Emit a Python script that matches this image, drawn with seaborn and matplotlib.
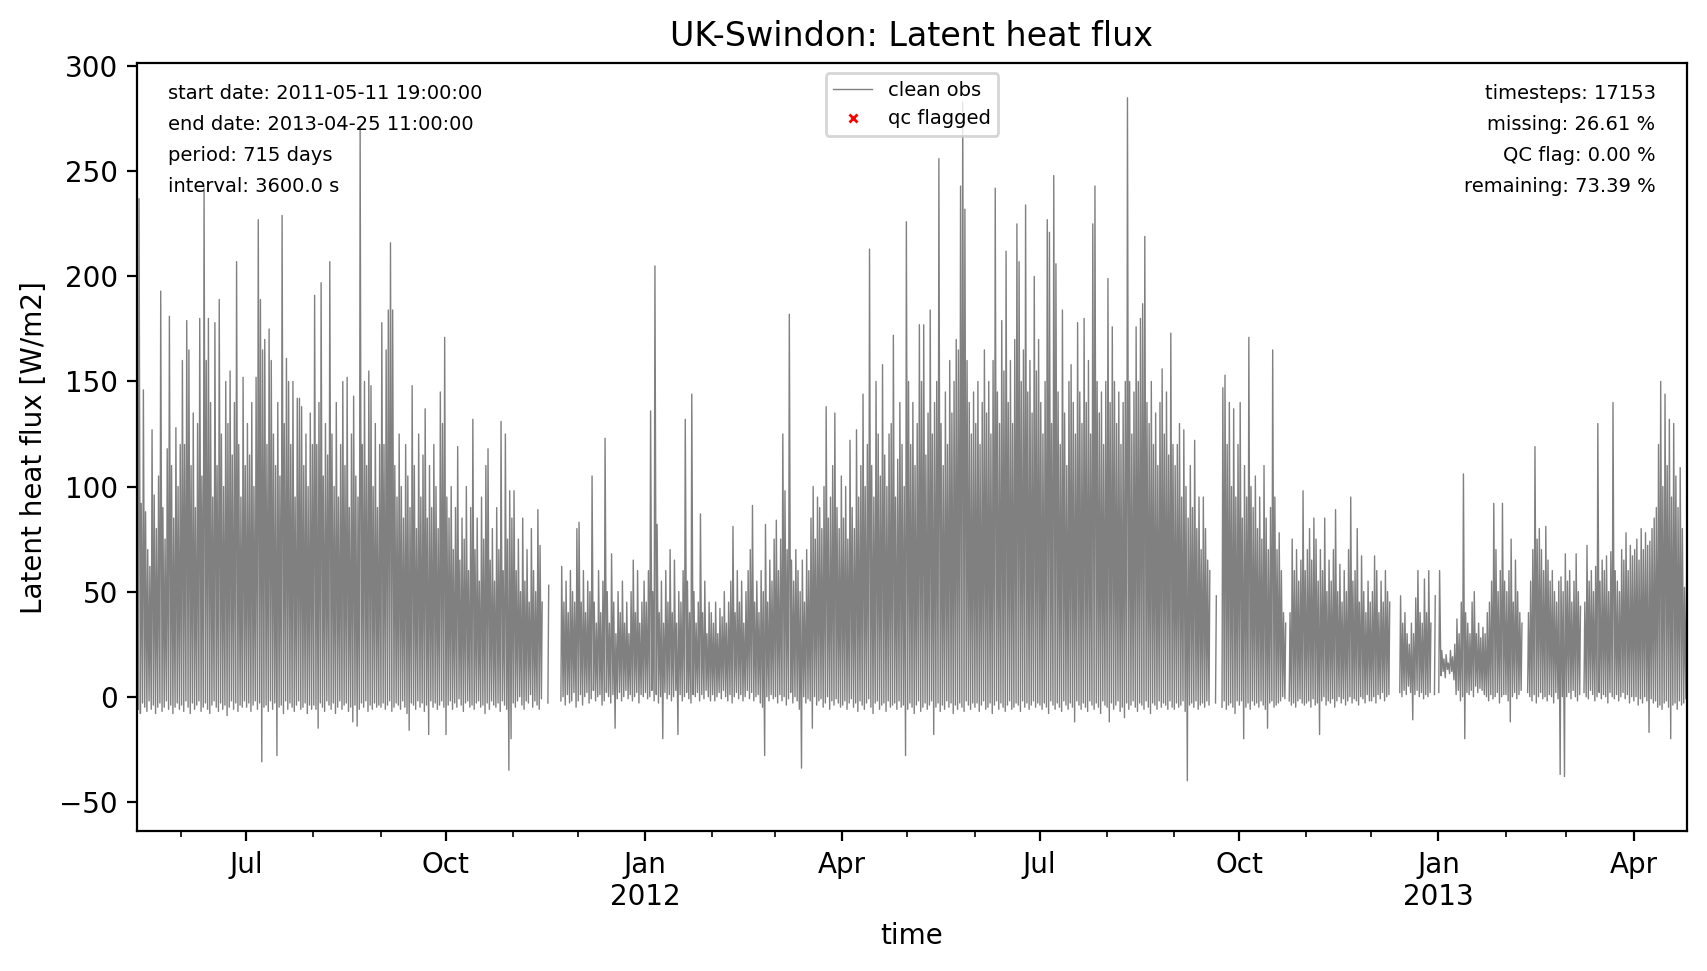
import numpy as np
import pandas as pd
import matplotlib
matplotlib.use('Agg')
import matplotlib.pyplot as plt
import matplotlib.dates as mdates
from matplotlib.ticker import FuncFormatter
from matplotlib.lines import Line2D
import seaborn as sns

title = 'UK-Swindon: Latent heat flux'
ylabel = 'Latent heat flux [W/m2]'
first_day = '2011-05-12'
t_start = pd.Timestamp('2011-05-11 19:00:00')
t_end = pd.Timestamp('2013-04-25 11:00:00')

# daily peak (afternoon) and trough (night), one line per month
# None = no data that day
hi_2011q2 = [237, 92, 146, 88, 70, 62, 127, 96, 80, 105, 193, 90, 75, 118, 181, 110, 85, 128, 100, 120,
             160, 120, 179, 165, 110, 135, 90, 130, 180, 105, 242, 160, 180, 140, 95, 178, 110, 189, 125, 100, 150, 130, 155, 115, 140, 207, 120, 95, 152, 110]
lo_2011q2 = [-6, -8, -3, -5, -7, -2, -6, -4, -8, -5, -3, -7, -5, -2, -6, -4, -8, -5, -3, -6,
             -4, -7, -2, -5, -8, -3, -6, -4, -2, -7, -5, -3, -6, -8, -4, -2, -5, -7, -3, -6, -4, -9, -5, -2, -6, -3, -7, -4, -5, -2]

hi_2011q3 = [130, 115, 140, 100, 152, 227, 189, 165, 170, 120, 175, 160, 125, 110, 140, 105, 229, 130, 161, 150, 120, 150, 95, 142, 142, 138, 110, 125, 100, 135, 120,
             191, 120, 140, 197, 105, 130, 115, 207, 125, 100, 140, 95, 120, 150, 110, 152, 90, 125, 143, 105, 95, 271, 120, 150, 110, 155, 148, 100, 130, 90, 120,
             178, 120, 165, 184, 216, 184, 110, 95, 125, 100, 85, 120, 105, 90, 148, 110, 80, 125, 95, 115, 137, 85, 110, 90, 120, 100, 80, 145, 130, 171]
lo_2011q3 = [-5, -3, -7, -4, -2, -6, -3, -31, -5, -4, -7, -2, -6, -3, -28, -5, -4, -8, -2, -6, -3, -5, -7, -4, -2, -6, -5, -3, -8, -4, -6,
             -4, -6, -15, -3, -5, -7, -2, -4, -6, -3, -8, -5, -2, -6, -4, -3, -7, -5, -12, -4, -14, -6, -3, -5, -2, -7, -4, -6, -3, -5, -4,
             -5, -3, -6, -4, -2, -7, -5, -3, -4, -6, -2, -5, -8, -16, -3, -4, -6, -2, -5, -3, -7, -4, -18, -2, -5, -3, -6, -4, -2, -5]

hi_2011q4 = [95, 85, 100, 70, 90, 119, 65, 85, 75, 100, 60, 90, 132, 70, 85, 55, 95, 75, 110, 118, 65, 80, 55, 90, 70, 131, 60, 125, 75, 98, 85,
             98, 60, 75, 50, 85, 55, 70, 45, 80, 60, 50, 89, 72, 45, None, None, 53, None, None, None, None, None, 62, 45, 55, 40, 60, 50, 45, 80,
             83, 45, 60, 40, 55, 50, 105, 45, 35, 60, 40, 55, 123, 50, 35, 68, 45, 30, 50, 40, 55, 35, 45, 30, 50, 65, 40, 60, 35, 45, 55]
lo_2011q4 = [-18, -4, -2, -6, -3, -5, -1, -4, -7, -3, -2, -5, -4, -6, -3, -2, -5, -4, -8, -3, -6, -2, -4, -5, -3, -7, -2, -4, -6, -35, -20,
             -3, -5, -2, 0, -4, -6, -2, -3, 1, -5, -2, -4, -6, -1, None, None, -3, None, None, None, None, None, -2, 0, -4, 1, -3, -2, 2, -5,
             -2, 1, -4, 0, 2, -3, -1, 3, -2, 0, 1, -4, -2, 2, 0, -3, 1, -15, -1, 2, -2, 0, 3, -1, 1, -2, 0, 2, -3, 1, 0]

hi_2012q1 = [45, 60, 136, 50, 205, 82, 40, 55, 35, 60, 45, 70, 40, 65, 35, 50, 45, 60, 132, 55, 40, 144, 50, 35, 45, 87, 40, 55, 30, 45, 40,
             35, 45, 30, 42, 38, 50, 35, 45, 55, 81, 40, 60, 45, 55, 35, 50, 60, 70, 91, 45, 55, 40, 60, 50, 82, 45, 65, 55, 75,
             84, 60, 75, 125, 98, 70, 182, 65, 55, 70, 60, 50, 65, 45, 70, 60, 85, 100, 75, 95, 90, 80, 100, 138, 85, 95, 110, 135, 90, 80, 105]
lo_2012q1 = [2, -1, 0, 3, -2, 1, -3, 0, -20, 2, -1, 1, -2, 0, 3, -18, 1, -2, 0, 2, -1, -3, 1, 0, 2, -2, 1, -1, 3, 0, -2,
             1, -2, 0, 2, -1, 3, 0, -2, 1, -3, 0, 2, -1, 1, -2, 0, 3, -1, 2, -2, 0, 1, -3, -5, -28, 0, -2, 1, -1,
             0, -3, 1, -2, 0, -4, -1, 2, -3, 0, -2, -6, -34, 0, -3, -1, -2, -15, 0, -4, -2, -1, -5, -3, 0, -6, -2, -4, -1, -3, -5]

hi_2012q2 = [85, 100, 75, 122, 90, 80, 127, 95, 110, 144, 100, 120, 213, 110, 95, 150, 125, 105, 158, 115, 100, 125, 130, 172, 95, 113, 140, 120, 100, 226,
             150, 120, 140, 110, 130, 177, 150, 177, 115, 135, 184, 125, 140, 150, 256, 130, 110, 145, 120, 160, 135, 150, 170, 165, 243, 283, 232, 160, 140, 125, 145,
             130, 150, 120, 140, 165, 135, 150, 125, 160, 242, 145, 130, 179, 155, 212, 140, 160, 130, 170, 225, 207, 150, 165, 234, 145, 160, 135, 200, 155, 170]
lo_2012q2 = [-4, -2, -6, -3, -1, -5, -3, -7, -2, -4, -6, -3, -1, -5, -8, -3, -2, -6, -4, -3, -7, -2, -5, -4, -3, -6, -2, -5, -4, -28,
             -6, -3, -5, -8, -4, -2, -7, -5, -3, -6, -4, -2, -18, -5, -3, -7, -4, -6, -2, -5, -3, -8, -4, -6, -3, -5, -7, -2, -4, -6, -3,
             -5, -3, -7, -4, -2, -6, -5, -3, -8, -4, -2, -6, -3, -5, -7, -4, -2, -6, -5, -3, -4, -7, -2, -5, -3, -6, -4, -2, -5, -3]

hi_2012q3 = [140, 125, 150, 227, 221, 130, 248, 206, 145, 120, 184, 135, 110, 150, 158, 140, 125, 178, 145, 130, 180, 140, 160, 125, 225, 243, 150, 135, 145, 120, 150,
             199, 140, 176, 150, 130, 145, 120, 140, 150, 285, 150, 125, 145, 176, 150, 180, 187, 219, 140, 130, 150, 120, 135, 110, 140, 156, 125, 145, 115, 173, 120,
             110, 120, 130, 95, 127, 100, 85, 110, 90, 122, 80, 95, 70, 95, 80, 65, 60, None, None, 48, None, None, 147, 153, 120, 140, 100, 137, 95, 120]
lo_2012q3 = [-4, -6, -3, -5, -8, -2, -4, -6, -3, -5, -7, -2, -4, -6, -3, -5, -12, -2, -4, -6, -3, -5, -7, -2, -4, -6, -3, -5, -8, -2, -4,
             -5, -12, -3, -6, -4, -2, -7, -5, -10, -3, -6, -4, -2, -5, -7, -3, -4, -6, -2, -5, -8, -3, -4, -6, -2, -5, -3, -4, -6, -2, -5,
             -6, -3, -5, -4, -2, -7, -40, -4, -3, -5, -2, -6, -4, -3, -5, -2, -4, None, None, -3, None, None, -5, -2, -6, -4, -3, -5, -8, -2]

hi_2012q4 = [140, 85, 110, 95, 171, 100, 90, 105, 80, 95, 75, 110, 85, 70, 90, 165, 95, 70, 78, 60, 40, 35, None, 40, 75, 60, 70, 55, 65, 98, 60,
             70, 80, 65, 85, 75, 55, 70, 60, 85, 50, 65, 55, 70, 89, 50, 63, 45, 60, 50, 70, 95, 55, 60, 80, 45, 67, 50, 40, 55, 45,
             50, 67, 60, 40, 55, 45, 60, 50, 45, None, None, None, None, 48, 35, 40, 30, 25, 35, 30, 47, 60, 40, 35, 56, 40, 60, 35, None, 48, None]
lo_2012q4 = [-4, -2, -20, -5, -3, -6, -2, -4, -3, -5, -2, -4, -6, -15, -3, -2, -5, -4, -3, -2, 0, -1, None, -2, -4, -3, -5, -2, -1, -3, -4,
             -3, -2, -5, -1, -4, -3, -18, -2, 0, -4, -2, -3, -1, -5, -2, 0, -3, -1, -4, -2, 0, -3, -1, -2, -4, 0, -1, -3, 1, -2,
             -2, 0, -3, 1, -1, 2, -2, 0, 1, None, None, None, None, 2, 0, 3, 1, 5, 2, -11, 1, 3, 0, 2, -1, 1, 0, 2, None, 1, None]

hi_2013q1 = [60, 22, 18, 20, 16, 22, 19, 25, 37, 30, 45, 106, 40, 35, 30, 45, 50, 30, 35, 28, 33, 30, 40, 45, 55, 92, 70, 50, 60, 92, 55,
             50, 60, 75, 45, 65, 50, 40, 35, None, None, 40, 55, 70, 119, 75, 80, 70, 60, 81, 65, 55, 60, 50, 45, 55, 57, 50, 68,
             55, 60, 45, 55, 68, 50, 43, None, 45, 72, 55, 60, 50, 62, 130, 55, 65, 60, 67, 50, 69, 140, 60, 55, 50, 70, 65, 78, 60, 72, 67]
lo_2013q1 = [2, 10, 12, 9, 13, 11, 12, 8, 1, 3, -2, 0, -20, 2, 1, 3, 0, 5, 2, 4, 3, 1, 0, -2, 1, -1, 0, 2, -3, 0, 1,
             1, -2, -12, 0, 2, -1, 1, 3, None, None, 2, 0, -2, 1, -3, 0, 2, -1, 0, -2, 1, 0, -3, 2, -1, -37, 0, -38,
             0, 2, -1, 3, 0, -2, 1, None, 2, 0, -1, 3, 1, -2, 0, 2, -1, 1, 0, -3, 2, 0, -1, 1, -2, 0, 2, -1, 1, -3, 0]

hi_2013q2 = [70, 75, 65, 80, 70, 78, 72, 74, 80, 85, 90, 120, 150, 100, 144, 110, 132, 95, 130, 105, 90, 109, 80, 52, 60]
lo_2013q2 = [-2, 0, -4, -1, -3, 0, -2, -17, -1, -3, -2, -5, -4, -6, -3, -2, -5, -20, -4, -3, -6, -2, -4, -3, -1]

info_left = ['start date: 2011-05-11 19:00:00', 'end date: 2013-04-25 11:00:00',
             'period: 715 days', 'interval: 3600.0 s']
info_right = ['timesteps: 17153', 'missing: 26.61 %', 'QC flag: 0.00 %', 'remaining: 73.39 %']

highs = np.array(hi_2011q2 + hi_2011q3 + hi_2011q4 + hi_2012q1 + hi_2012q2 + hi_2012q3
                 + hi_2012q4 + hi_2013q1 + hi_2013q2, dtype=float)
lows = np.array(lo_2011q2 + lo_2011q3 + lo_2011q4 + lo_2012q1 + lo_2012q2 + lo_2012q3
                + lo_2012q4 + lo_2013q1 + lo_2013q2, dtype=float)
n = min(len(highs), len(lows))
days = pd.date_range(first_day, periods=n, freq='D')

# night trough then afternoon peak for every day
t = np.empty(2 * n, dtype='datetime64[ns]')
t[0::2] = (days + pd.Timedelta(hours=4)).values
t[1::2] = (days + pd.Timedelta(hours=13)).values
v = np.empty(2 * n)
v[0::2] = lows[:n]
v[1::2] = highs[:n]

df = pd.DataFrame({'time': t, 'value': v})
df['seg'] = df['value'].isna().cumsum()  # break the line at missing data
df = df.dropna()

fig, ax = plt.subplots(figsize=(8.535, 4.855), dpi=200)
fig.subplots_adjust(left=0.0805, right=0.988, top=0.935, bottom=0.144)

sns.lineplot(data=df, x='time', y='value', units='seg', estimator=None,
             color='grey', linewidth=0.5, sort=False, legend=False, ax=ax)

ax.set_xlim(t_start, t_end)
ax.set_ylim(-64, 301.5)
ax.set_yticks(np.arange(-50, 301, 50))

def month_label(x, pos=None):
    d = mdates.num2date(x)
    s = d.strftime('%b')
    if d.month == 1:
        s += '\n%d' % d.year
    return s

ax.xaxis.set_major_locator(mdates.MonthLocator(bymonth=[1, 4, 7, 10]))
ax.xaxis.set_minor_locator(mdates.MonthLocator())
ax.xaxis.set_major_formatter(FuncFormatter(month_label))
ax.tick_params(axis='both', labelsize=10)

ax.set_title(title, fontsize=12)
ax.set_xlabel('time', fontsize=10)
ax.set_ylabel(ylabel, fontsize=10)

handles = [Line2D([], [], color='grey', lw=0.5, label='clean obs'),
           Line2D([], [], color='red', marker='x', ls='None', ms=3, mew=1, label='qc flagged')]
ax.legend(handles=handles, loc='upper center', fontsize=7)

for i, s in enumerate(info_left):
    ax.text(0.02, 0.96 - 0.04 * i, s, transform=ax.transAxes, fontsize=7, ha='left', va='center')
for i, s in enumerate(info_right):
    ax.text(0.98, 0.96 - 0.04 * i, s, transform=ax.transAxes, fontsize=7, ha='right', va='center')

fig.savefig('out.png', dpi=200)
